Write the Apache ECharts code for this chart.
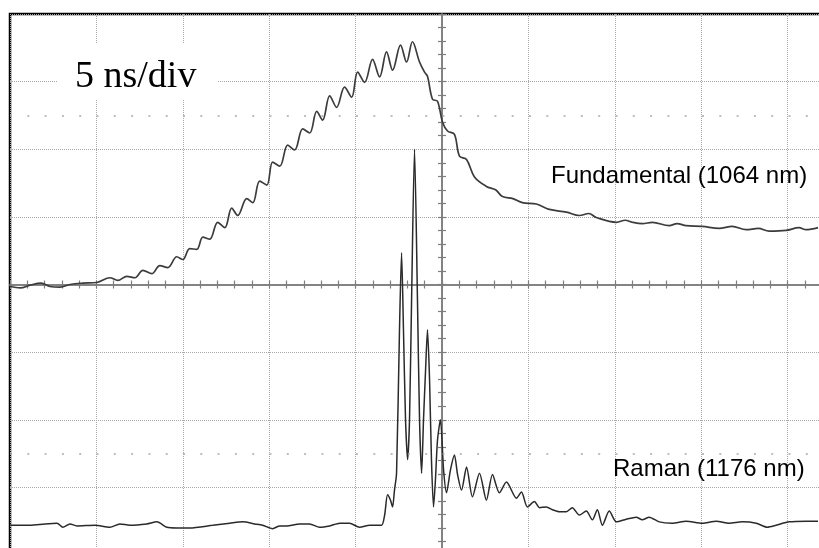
<!DOCTYPE html>
<html>
<head>
<meta charset="utf-8">
<script src="https://cdn.jsdelivr.net/npm/echarts@6/dist/echarts.min.js"></script>
<style>
  html, body { margin: 0; padding: 0; background: #fff; }
  #scope { width: 819px; height: 548px; }
</style>
</head>
<body>
<div id="scope"></div>
<script>
// time in ns relative to the trigger (centre line), level in screen divisions
const fundTime = [-25, -24.4, -23.84, -23.2, -22.69, -22.1, -21.53, -20.8, -19.97, -19.22, -18.76, -18.24, -17.77,
  -17.31, -16.79, -16.33, -15.87, -15.35, -15.0, -14.6, -14.19, -13.84, -13.44, -12.98, -12.57, -12.17, -11.82,
  -11.3, -10.95, -10.55, -10.14, -9.8, -9.39, -8.93, -8.53, -8.06, -7.66, -7.25, -6.91, -6.5, -6.1, -5.64, -5.23,
  -4.88, -4.48, -4.02, -3.61, -3.21, -2.86, -2.4, -2.05, -1.71, -1.3, -1.01, -0.84, -0.55, -0.26, 0.03, 0.32, 0.72,
  1.01, 1.42, 1.88, 2.57, 3.1, 3.5, 4.1, 4.65, 5.46, 6.21, 7.2, 7.95, 8.5, 8.93, 10.09, 10.6, 11.01, 11.6, 12.17,
  13.15, 13.6, 14.13, 15.06, 16.04, 16.79, 17.6, 18.3, 18.93, 19.91, 20.66, 21.07, 21.76];
const fundLevel = [-0.03, -0.05, -0.01, 0.02, -0.03, -0.04, 0, 0.02, 0.03, 0.10, 0.06, 0.12, 0.10,
  0.21, 0.16, 0.28, 0.25, 0.41, 0.37, 0.53, 0.52, 0.70, 0.67, 0.92, 0.84, 1.13, 1.02,
  1.27, 1.21, 1.53, 1.47, 1.81, 1.75, 2.06, 1.99, 2.30, 2.24, 2.56, 2.43, 2.79, 2.62, 2.92, 2.77,
  3.14, 2.99, 3.33, 3.07, 3.44, 3.17, 3.54, 3.29, 3.59, 3.29, 3.14, 3.08, 2.74, 2.71, 2.40, 2.27, 2.22,
  1.90, 1.85, 1.59, 1.45, 1.40, 1.30, 1.27, 1.21, 1.19, 1.11, 1.07, 1.02, 1.05, 0.99, 0.92, 0.95, 0.92, 0.90, 0.92,
  0.87, 0.90, 0.87, 0.86, 0.83, 0.86, 0.81, 0.83, 0.79, 0.80, 0.84, 0.81, 0.84];

const ramanTime = [-25, -23.84, -22.98, -22.28, -21.94, -21.53, -21.13, -20.09, -19.22, -18.64, -18.06, -17.08,
  -16.5, -15.92, -15.35, -14.6, -13.27, -12.28, -11.53, -10.84, -10.38, -9.8, -9.39, -8.99, -8.24, -7.66, -7.08,
  -6.5, -5.92, -5.35, -4.77, -4.19, -3.5, -3.32, -3.15, -2.98, -2.86, -2.75, -2.63, -2.46, -2.34, -2.23, -2.11,
  -1.99, -1.88, -1.76, -1.59, -1.42, -1.3, -1.18, -1.07, -0.95, -0.84, -0.72, -0.61, -0.49, -0.38, -0.26, -0.09,
  0.09, 0.26, 0.49, 0.72, 0.9, 1.13, 1.42, 1.76, 2.17, 2.57, 2.92, 3.32, 3.73, 4.31, 4.6, 4.94, 5.35, 5.64, 6.04,
  6.39, 6.79, 7.2, 7.54, 7.95, 8.35, 8.7, 8.99, 9.28, 9.68, 10.09, 10.66, 11.24, 11.59, 11.99, 12.57, 13.32, 14.13,
  15.06, 15.87, 16.62, 17.37, 18.18, 18.82, 19.34, 20.09, 21.07, 21.76];
const ramanLevel = [-3.56, -3.56, -3.54, -3.53, -3.59, -3.54, -3.57, -3.56, -3.59, -3.54, -3.56, -3.54,
  -3.51, -3.59, -3.60, -3.60, -3.56, -3.53, -3.51, -3.54, -3.56, -3.61, -3.57, -3.57, -3.54, -3.54, -3.59,
  -3.57, -3.53, -3.53, -3.59, -3.56, -3.56, -3.41, -3.11, -3.19, -3.29, -3.04, -2.79, -0.67, 0.47, -0.67, -2.00,
  -2.59, -2.00, -0.22, 2.00, -0.22, -2.00, -2.79, -2.00, -1.26, -0.67, -1.41, -2.59, -3.29, -2.89, -2.30, -2.00,
  -2.74, -3.08, -2.74, -2.52, -2.81, -3.04, -2.70, -3.14, -2.79, -3.19, -2.81, -3.08, -2.92, -3.16, -3.07, -3.29, -3.21, -3.30, -3.29,
  -3.33, -3.36, -3.36, -3.30, -3.41, -3.35, -3.48, -3.33, -3.56, -3.35, -3.51, -3.47, -3.44, -3.48, -3.44, -3.51, -3.53, -3.50,
  -3.53, -3.50, -3.53, -3.51, -3.53, -3.59, -3.56, -3.51, -3.50, -3.50];

const levelMarks = [2.5, -2.5];

const zip = (xs, ys) => xs.map((x, i) => [x, ys[i]]);

const chart = echarts.init(document.getElementById("scope"), null, { renderer: "canvas" });

const gridLine = { show: true, lineStyle: { color: "#a8a8a8", type: "dotted", width: 1 } };
const centreLine = (idx) => ({ show: true, onZero: true, onZeroAxisIndex: idx, lineStyle: { color: "#7d7d7d", width: 1.5 } });
const tick = { show: true, inside: true, length: 4, lineStyle: { color: "#7d7d7d", width: 1.2 } };
const minor = { show: true, splitNumber: 5, length: 4, lineStyle: { color: "#7d7d7d", width: 1.2 } };

const option = {
  animation: false,
  backgroundColor: "#fff",
  grid: {
    left: 10, top: 14, width: 864, height: 541,
    outerBoundsMode: "none",
    show: true, borderColor: "#000", borderWidth: 2.5, backgroundColor: "#fff",
  },
  xAxis: [
    {
      type: "value", min: -25, max: 25, interval: 5, position: "bottom",
      axisLine: centreLine(0), axisTick: tick, minorTick: minor,
      axisLabel: { show: false }, splitLine: gridLine,
    },
    {
      type: "value", min: -25, max: 25, interval: 5, position: "top",
      axisLine: centreLine(1), axisTick: tick, minorTick: minor,
      axisLabel: { show: false }, splitLine: { show: false },
    },
  ],
  yAxis: [
    {
      type: "value", min: -4, max: 4, interval: 1, position: "left",
      axisLine: centreLine(0), axisTick: tick, minorTick: minor,
      axisLabel: { show: false }, splitLine: gridLine,
    },
    {
      type: "value", min: -4, max: 4, interval: 1, position: "right",
      axisLine: centreLine(1), axisTick: tick, minorTick: minor,
      axisLabel: { show: false }, splitLine: { show: false },
    },
  ],
  series: [
    {
      name: "Fundamental (1064 nm)",
      type: "line",
      data: zip(fundTime, fundLevel),
      showSymbol: false,
      smooth: 0.35,
      lineStyle: { color: "#3c3c3c", width: 1.7 },
      markLine: {
        silent: true, symbol: "none", label: { show: false },
        lineStyle: { color: "#a8a8a8", type: [2, 15.3], width: 1.5 },
        data: levelMarks.map((v) => ({ yAxis: v })),
      },
      z: 3,
    },
    {
      name: "Raman (1176 nm)",
      type: "line",
      data: zip(ramanTime, ramanLevel),
      showSymbol: false,
      smooth: 0.25,
      lineStyle: { color: "#2a2a2a", width: 1.5 },
      z: 3,
    },
  ],
  graphic: [
    { type: "rect", shape: { x: 58, y: 43, width: 159, height: 57 }, style: { fill: "#fff" }, z: 50 },
    {
      type: "text", x: 75, y: 58, z: 51,
      style: { text: "5 ns/div", font: "38px 'Liberation Serif'", fill: "#000" },
    },
    {
      type: "text", x: 551, y: 164, z: 51,
      style: { text: "Fundamental (1064 nm)", font: "24px 'Liberation Sans'", fill: "#000" },
    },
    {
      type: "text", x: 613, y: 457, z: 51,
      style: { text: "Raman (1176 nm)", font: "24px 'Liberation Sans'", fill: "#000" },
    },
  ],
};

chart.setOption(option);
</script>
</body>
</html>
